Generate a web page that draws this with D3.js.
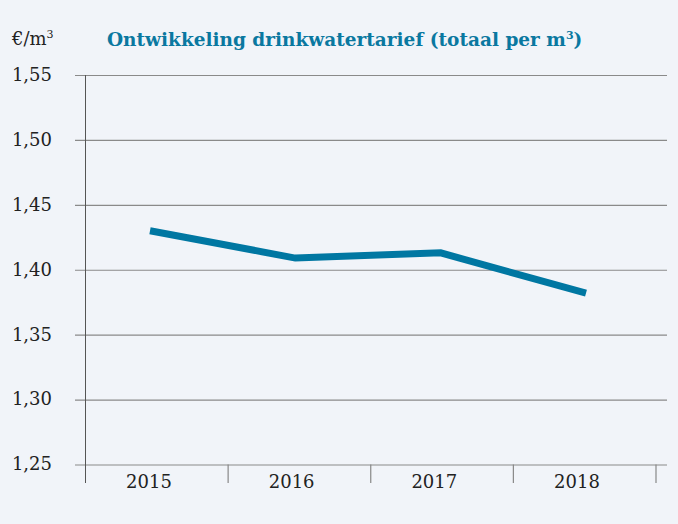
<!DOCTYPE html>
<html>
<head>
<meta charset="utf-8">
<script src="https://cdn.jsdelivr.net/npm/d3@7"></script>
<style>
  html, body { margin: 0; padding: 0; background: #f1f4f9; }
  svg { display: block; }
</style>
</head>
<body>
<div id="chart"></div>
<script>
const years = ['2015', '2016', '2017', '2018'];
const tarief = [1.430, 1.409, 1.413, 1.382];
const yTicks = [1.25, 1.30, 1.35, 1.40, 1.45, 1.50, 1.55];

const W = 678, H = 524;
const svg = d3.select('#chart').append('svg')
    .attr('width', W)
    .attr('height', H)
    .style('font-family', '"DejaVu Serif", serif');

svg.append('rect').attr('width', W).attr('height', H).attr('fill', '#f1f4f9');

// scales
const y = d3.scaleLinear().domain([1.25, 1.55]).range([464.5, 75]);
const xBand = d3.scaleBand().domain(years).range([85.5, 656]);
const xPt = d3.scalePoint().domain(years).range([150, 586]);
const xLab = d3.scalePoint().domain(years).range([149, 577]);

// gridlines + y labels
const yAxis = d3.axisLeft(y)
    .tickValues(yTicks)
    .tickSize(-(667 - 75))
    .tickPadding(23)
    .tickFormat(d => d3.format('.2f')(d).replace('.', ','));

const gy = svg.append('g')
    .attr('transform', 'translate(75,0)')
    .call(yAxis);
gy.select('.domain').remove();
gy.selectAll('.tick line')
    .attr('x1', 0).attr('x2', 667 - 75)
    .attr('stroke', '#8a8a8a')
    .attr('stroke-width', 1.2);
gy.selectAll('.tick text')
    .attr('x', -23)
    .attr('dy', '0.3em')
    .attr('fill', '#222')
    .style('font-size', '18px')
    .style('font-family', '"DejaVu Serif", serif');

// vertical axis line
svg.append('line')
    .attr('x1', 85.5).attr('x2', 85.5)
    .attr('y1', 75).attr('y2', 483)
    .attr('stroke', '#555')
    .attr('stroke-width', 1);

// x tick marks (band boundaries)
const bounds = years.map(d => xBand(d)).concat([xBand(years[3]) + xBand.bandwidth()]);
svg.selectAll('.xtick').data(bounds.slice(1)).join('line')
    .attr('class', 'xtick')
    .attr('x1', d => d).attr('x2', d => d)
    .attr('y1', 464.5).attr('y2', 483)
    .attr('stroke', '#888')
    .attr('stroke-width', 1.2);

// x labels
svg.selectAll('.xlab').data(years).join('text')
    .attr('class', 'xlab')
    .attr('x', d => xLab(d))
    .attr('y', 488)
    .attr('text-anchor', 'middle')
    .attr('fill', '#222')
    .style('font-size', '18px')
    .text(d => d);

// line
const line = d3.line()
    .x((d, i) => xPt(years[i]))
    .y(d => y(d));

svg.append('path')
    .datum(tarief)
    .attr('d', line)
    .attr('fill', 'none')
    .attr('stroke', '#0077a2')
    .attr('stroke-width', 7)
    .attr('stroke-linejoin', 'miter')
    .attr('stroke-linecap', 'butt');

// unit label
const unit = svg.append('text')
    .attr('x', 12)
    .attr('y', 45)
    .attr('fill', '#222')
    .style('font-size', '18px');
unit.append('tspan').text('€/m');
unit.append('tspan').attr('dy', -7).style('font-size', '11px').text('3');

// title
const title = svg.append('text')
    .attr('x', 107)
    .attr('y', 46)
    .attr('fill', '#0a78a0')
    .style('font-size', '18.5px')
    .style('font-weight', 'bold');
title.append('tspan').text('Ontwikkeling drinkwatertarief (totaal per m');
title.append('tspan').attr('dy', -7).style('font-size', '11px').text('3');
title.append('tspan').attr('dy', 7).text(')');
</script>
</body>
</html>
